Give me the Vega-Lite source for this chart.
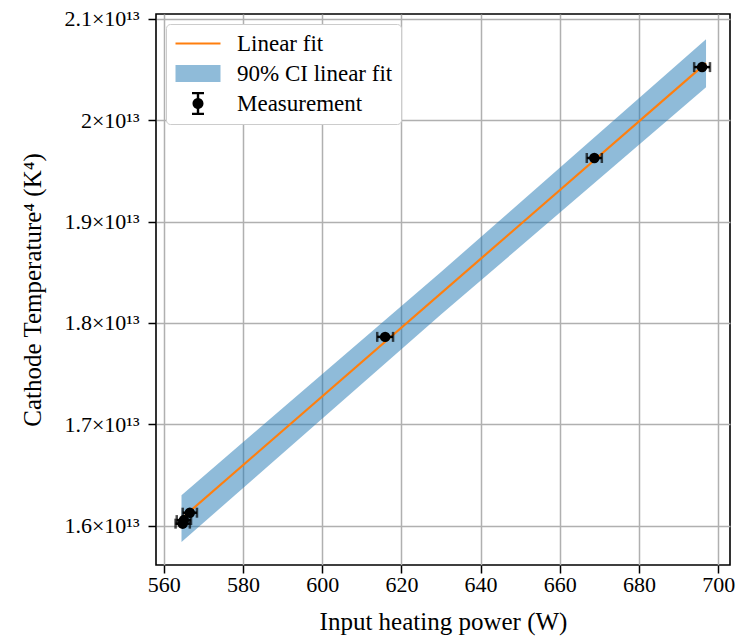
{
  "$schema": "https://vega.github.io/schema/vega-lite/v6.json",
  "autosize": "none",
  "width": 574,
  "height": 551,
  "padding": {"left": 156, "top": 14, "right": 8, "bottom": 72},
  "background": "white",
  "config": {
    "view": {"stroke": "black", "strokeWidth": 1.6},
    "axis": {
      "labelFont": "Liberation Serif", "titleFont": "Liberation Serif",
      "labelFontSize": 22, "titleFontSize": 25, "titleFontWeight": "normal",
      "labelColor": "black", "titleColor": "black",
      "tickColor": "black", "tickWidth": 1.5, "tickSize": 8,
      "domain": false, "gridColor": "#b0b0b0", "gridWidth": 1.5, "gridOpacity": 1
    }
  },
  "datasets": {
    "band": [
      {"W": 564.5, "lo": 1.5839e13, "hi": 1.6301e13},
      {"W": 630.0, "lo": 1.8083e13, "hi": 1.8503e13},
      {"W": 696.9, "lo": 2.0327e13, "hi": 2.0801e13}
    ],
    "fit": [
      {"W": 564.5, "T": 1.607e13},
      {"W": 696.9, "T": 2.0564e13}
    ],
    "meas": [
      {"W": 564.8, "T": 1.6020e13, "Wlo": 563.0, "Whi": 566.6, "Tlo": 1.5990e13, "Thi": 1.6050e13},
      {"W": 565.1, "T": 1.6055e13, "Wlo": 563.3, "Whi": 566.9, "Tlo": 1.6025e13, "Thi": 1.6085e13},
      {"W": 566.6, "T": 1.6128e13, "Wlo": 564.8, "Whi": 568.4, "Tlo": 1.6098e13, "Thi": 1.6158e13},
      {"W": 615.9, "T": 1.7863e13, "Wlo": 613.9, "Whi": 617.9, "Tlo": 1.7833e13, "Thi": 1.7893e13},
      {"W": 668.7, "T": 1.9628e13, "Wlo": 666.8, "Whi": 670.6, "Tlo": 1.9598e13, "Thi": 1.9658e13},
      {"W": 695.9, "T": 2.0525e13, "Wlo": 693.9, "Whi": 697.9, "Tlo": 2.0495e13, "Thi": 2.0555e13}
    ],
    "legend": [
      {"series": "Linear fit", "W": 630, "T": 1.83e13},
      {"series": "90% CI linear fit", "W": 630, "T": 1.83e13},
      {"series": "Measurement", "W": 630, "T": 1.83e13}
    ]
  },
  "encoding": {
    "x": {
      "field": "W", "type": "quantitative",
      "scale": {"domain": [558.06, 702.95], "nice": false, "zero": false},
      "axis": {"title": "Input heating power (W)", "values": [560, 580, 600, 620, 640, 660, 680, 700], "labelPadding": 1, "titlePadding": 14}
    },
    "y": {
      "field": "T", "type": "quantitative",
      "scale": {"domain": [1.5612e13, 2.1049e13], "nice": false, "zero": false},
      "axis": {
        "title": "Cathode Temperature⁴ (K⁴)",
        "values": [1.6e13, 1.7e13, 1.8e13, 1.9e13, 2.0e13, 2.1e13],
        "labelExpr": "format(datum.value/1e13, '.1~f') + '×10¹³'",
        "labelPadding": 9, "titlePadding": 18
      }
    }
  },
  "layer": [
    {
      "data": {"name": "band"},
      "mark": {"type": "area", "color": "#1f77b4", "opacity": 0.5},
      "encoding": {
        "y": {"field": "lo", "type": "quantitative"},
        "y2": {"field": "hi"}
      }
    },
    {
      "data": {"name": "fit"},
      "mark": {"type": "line", "color": "#ff7f0e", "strokeWidth": 2.2},
      "encoding": {}
    },
    {
      "data": {"name": "meas"},
      "mark": {"type": "rule", "color": "black", "strokeWidth": 2.5},
      "encoding": {
        "x": {"field": "Wlo", "type": "quantitative"},
        "x2": {"field": "Whi"}
      }
    },
    {
      "data": {"name": "meas"},
      "mark": {"type": "tick", "orient": "vertical", "color": "black", "size": 10, "thickness": 2.5},
      "encoding": {"x": {"field": "Wlo", "type": "quantitative"}}
    },
    {
      "data": {"name": "meas"},
      "mark": {"type": "tick", "orient": "vertical", "color": "black", "size": 10, "thickness": 2.5},
      "encoding": {"x": {"field": "Whi", "type": "quantitative"}}
    },
    {
      "data": {"name": "meas"},
      "mark": {"type": "rule", "color": "black", "strokeWidth": 2.5},
      "encoding": {
        "y": {"field": "Tlo", "type": "quantitative"},
        "y2": {"field": "Thi"}
      }
    },
    {
      "data": {"name": "meas"},
      "mark": {"type": "circle", "color": "black", "size": 110, "opacity": 1},
      "encoding": {}
    },
    {
      "data": {"name": "legend"},
      "mark": {"type": "point", "filled": true, "opacity": 0},
      "encoding": {
        "color": {
          "field": "series", "type": "nominal",
          "scale": {"domain": ["Linear fit", "90% CI linear fit", "Measurement"], "range": ["#ff7f0e", "#8fbbd9", "black"]},
          "legend": {
            "title": null, "orient": "top-left", "offset": 10, "padding": 8, "rowPadding": 6,
            "symbolSize": 400, "symbolStrokeWidth": 0, "symbolOpacity": 1, "labelOffset": 40,
            "labelFont": "Liberation Serif", "labelFontSize": 23, "labelColor": "black", "labelLimit": 400,
            "strokeColor": "#cccccc", "fillColor": "white", "cornerRadius": 4,
            "encode": {"symbols": {"update": {"opacity": {"value": 1}, "fillOpacity": {"value": 1}}}}
          }
        },
        "shape": {
          "field": "series", "type": "nominal",
          "scale": {"domain": ["Linear fit", "90% CI linear fit", "Measurement"], "range": [
            "M-1,-0.1H3.5V0.1H-1Z",
            "M-1,-0.85H3.5V0.85H-1Z",
            "M0.65,-1.15H1.85V-0.93H0.65Z M1.13,-0.93H1.37V-0.45H1.13Z M1.13,0.45H1.37V0.93H1.13Z M0.65,0.93H1.85V1.15H0.65Z M1.8,0A0.55,0.55 0 1,1 0.7,0A0.55,0.55 0 1,1 1.8,0Z"
          ]}
        }
      }
    }
  ]
}
